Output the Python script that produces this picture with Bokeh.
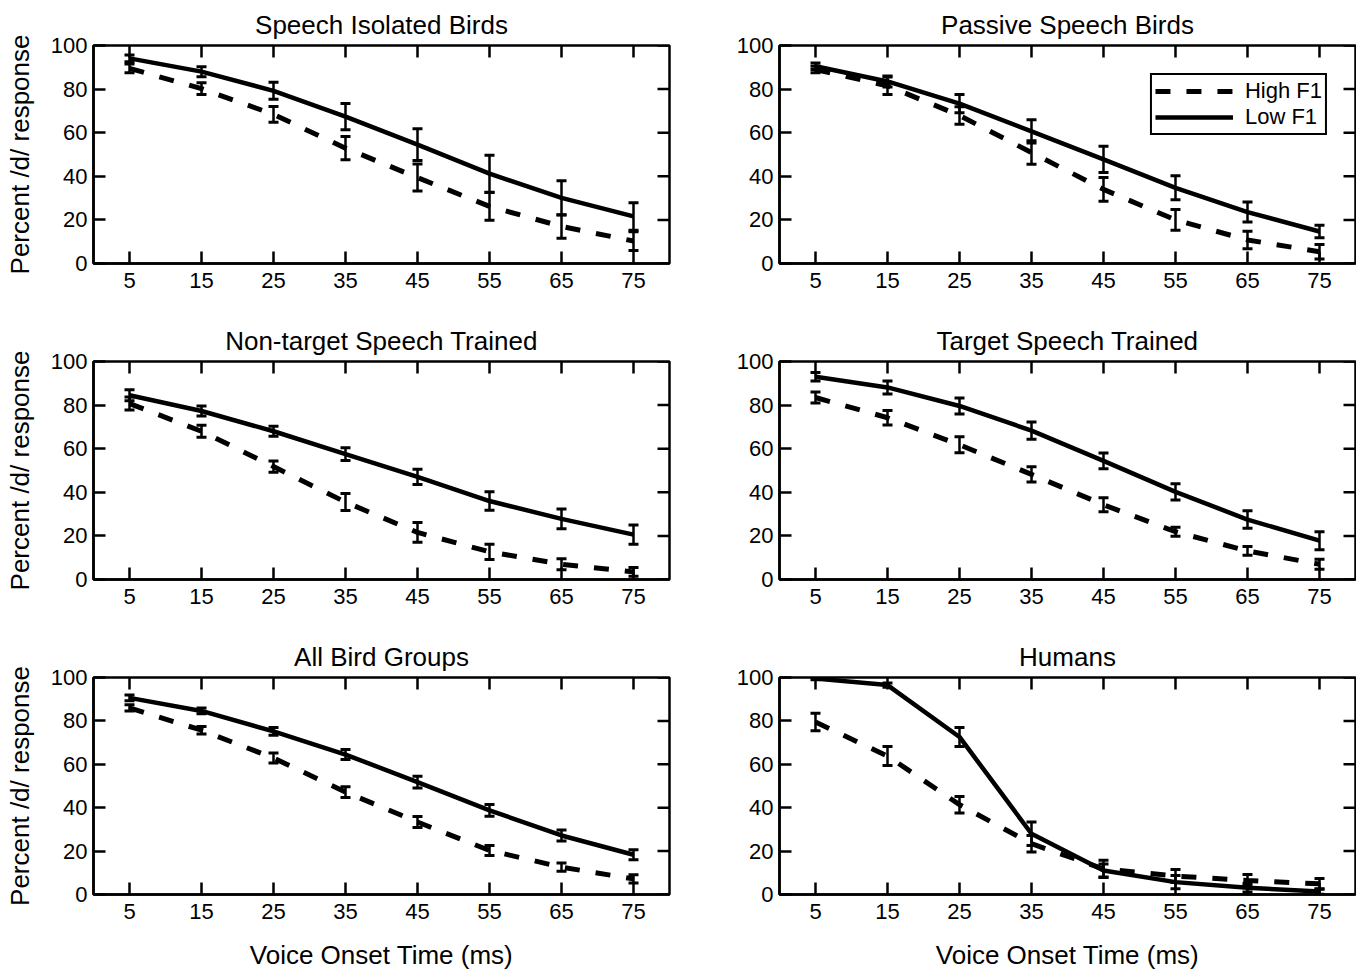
import math
from bokeh.plotting import figure
from bokeh.models import (ColumnDataSource, Whisker, TeeHead, FixedTicker,
                          Range1d, Legend, LegendItem)
from bokeh.layouts import column, row
from bokeh.embed import file_html
from bokeh.resources import INLINE

# ---------------- data ----------------
vot = [5, 15, 25, 35, 45, 55, 65, 75]
y_ticks = [0, 20, 40, 60, 80, 100]
X_MIN, X_MAX = 0, 80
Y_MIN, Y_MAX = 0, 100

titles = ["Speech Isolated Birds", "Passive Speech Birds",
          "Non-target Speech Trained", "Target Speech Trained",
          "All Bird Groups", "Humans"]
series_labels = ["High F1", "Low F1"]
x_label = "Voice Onset Time (ms)"
y_label = "Percent /d/ response"

# Speech Isolated Birds
sib_high = [89.5, 80.2, 68.4, 52.9, 39.4, 26.2, 17.0, 10.3]
sib_high_err = [2.0, 2.7, 3.6, 5.3, 6.2, 6.4, 5.4, 4.3]
sib_low = [94.1, 88.0, 79.2, 67.4, 54.5, 41.2, 30.1, 21.6]
sib_low_err = [1.5, 2.3, 3.9, 6.0, 7.3, 8.5, 7.9, 6.3]

# Passive Speech Birds
pass_high = [89.0, 81.5, 67.9, 50.9, 34.0, 20.0, 10.8, 5.4]
pass_high_err = [1.5, 4.0, 4.0, 5.4, 5.5, 4.8, 4.0, 3.3]
pass_low = [90.5, 83.5, 73.3, 60.6, 47.8, 34.7, 23.6, 14.7]
pass_low_err = [1.5, 2.5, 4.2, 5.3, 6.0, 5.5, 4.6, 2.9]

# Non-target Speech Trained
nt_high = [80.7, 68.0, 51.8, 35.5, 21.6, 12.7, 7.0, 3.5]
nt_high_err = [3.0, 2.7, 2.6, 3.9, 4.5, 3.5, 2.5, 2.0]
nt_low = [84.5, 77.3, 68.0, 57.5, 47.1, 36.0, 27.8, 20.6]
nt_low_err = [2.5, 2.3, 2.3, 2.9, 3.5, 4.2, 4.5, 4.4]

# Target Speech Trained
t_high = [83.5, 74.2, 61.8, 48.2, 34.3, 21.9, 13.1, 7.0]
t_high_err = [2.5, 3.3, 3.7, 3.5, 3.2, 2.1, 2.0, 2.3]
t_low = [93.0, 88.1, 79.6, 68.3, 54.4, 40.2, 27.5, 17.8]
t_low_err = [2.0, 3.0, 3.7, 4.0, 3.6, 3.7, 4.0, 4.1]

# All Bird Groups
all_high = [86.0, 75.7, 62.9, 47.2, 33.4, 20.3, 12.6, 7.2]
all_high_err = [1.4, 1.7, 2.3, 2.5, 2.5, 2.3, 1.9, 1.9]
all_low = [90.6, 84.6, 75.2, 64.5, 51.8, 38.8, 27.2, 18.3]
all_low_err = [1.3, 1.3, 1.8, 2.3, 2.7, 2.7, 2.5, 2.3]

# Humans
hum_high = [79.5, 63.8, 41.4, 23.4, 11.8, 8.5, 6.5, 4.9]
hum_high_err = [4.0, 4.4, 3.8, 3.8, 4.0, 3.0, 2.7, 2.5]
hum_low = [99.5, 96.5, 72.6, 28.0, 11.1, 5.7, 3.1, 1.4]
hum_low_err = [0.5, 1.0, 4.4, 5.4, 3.0, 3.0, 2.0, 1.3]

# ---------------- style ----------------
FONT = "Liberation Sans"
FRAME_W = 576
FRAME_H = 218
AX_W = 2.5
TICK_LEN = 12


def style_axis(ax):
    ax.axis_line_width = AX_W
    ax.axis_line_color = "black"
    ax.major_tick_in = TICK_LEN
    ax.major_tick_out = 0
    ax.major_tick_line_width = AX_W
    ax.major_tick_line_color = "black"
    ax.minor_tick_line_color = None
    ax.major_label_text_font = FONT
    ax.major_label_text_font_size = "22px"
    ax.major_label_text_color = "black"
    ax.major_label_standoff = 6
    ax.axis_label_text_font = FONT
    ax.axis_label_text_font_size = "26px"
    ax.axis_label_text_font_style = "normal"
    ax.axis_label_text_color = "black"


def make_panel(title, high, high_err, low, low_err, left_col, bottom_row, legend=False):
    bl = 93
    br = 17 if left_col else 1
    bt = 45
    bb = 77 if bottom_row else 53
    p = figure(width=bl + FRAME_W + br, height=bt + FRAME_H + bb,
               x_range=Range1d(X_MIN, X_MAX), y_range=Range1d(Y_MIN, Y_MAX),
               output_backend="svg", toolbar_location=None,
               min_border_left=bl, min_border_right=br,
               min_border_top=bt, min_border_bottom=bb)
    p.background_fill_color = "white"
    p.border_fill_color = "white"
    p.outline_line_color = "black"
    p.outline_line_width = AX_W
    p.xgrid.grid_line_color = None
    p.ygrid.grid_line_color = None

    p.title.text = title
    p.title.text_font = FONT
    p.title.text_font_size = "26px"
    p.title.text_font_style = "normal"
    p.title.text_color = "black"
    p.title.align = "center"
    p.title.standoff = 12

    xa = p.xaxis[0]
    xa.ticker = FixedTicker(ticks=vot)
    style_axis(xa)
    xa.major_label_standoff = 9
    if bottom_row:
        xa.axis_label = x_label
        xa.axis_label_standoff = 18
    ya = p.yaxis[0]
    ya.ticker = FixedTicker(ticks=y_ticks)
    style_axis(ya)
    if left_col:
        ya.axis_label = y_label
        ya.axis_label_standoff = 13

    # inward ticks on the top and right edges of the frame
    p.ray(x=vot, y=[Y_MAX] * len(vot), length=TICK_LEN, length_units="screen",
          angle=-math.pi / 2, line_color="black", line_width=AX_W)
    p.ray(x=[X_MAX] * len(y_ticks), y=y_ticks, length=TICK_LEN, length_units="screen",
          angle=math.pi, line_color="black", line_width=AX_W)

    src = ColumnDataSource(dict(
        x=vot,
        high=high, high_lo=[v - e for v, e in zip(high, high_err)],
        high_up=[v + e for v, e in zip(high, high_err)],
        low=low, low_lo=[v - e for v, e in zip(low, low_err)],
        low_up=[v + e for v, e in zip(low, low_err)],
    ))

    r_high = p.line("x", "high", source=src, line_color="black", line_width=5,
                    line_dash="15 16")
    r_low = p.line("x", "low", source=src, line_color="black", line_width=4.5)

    for lo, up in (("high_lo", "high_up"), ("low_lo", "low_up")):
        w = Whisker(base="x", lower=lo, upper=up, source=src,
                    line_color="black", line_width=2.5, level="overlay",
                    upper_head=TeeHead(size=10, line_width=3, line_color="black"),
                    lower_head=TeeHead(size=10, line_width=3, line_color="black"))
        p.add_layout(w)

    if legend:
        lg = Legend(items=[LegendItem(label=series_labels[0], renderers=[r_high]),
                           LegendItem(label=series_labels[1], renderers=[r_low])],
                    location="top_right")
        lg.label_text_font = FONT
        lg.label_text_font_size = "22px"
        lg.label_text_color = "black"
        lg.border_line_color = "black"
        lg.border_line_width = 2
        lg.border_line_alpha = 1.0
        lg.background_fill_color = "white"
        lg.background_fill_alpha = 1.0
        lg.glyph_width = 78
        lg.glyph_height = 20
        lg.label_height = 20
        lg.label_standoff = 12
        lg.padding = 3
        lg.spacing = 0
        lg.margin = 28
        p.add_layout(lg)
    return p


p1 = make_panel(titles[0], sib_high, sib_high_err, sib_low, sib_low_err, True, False)
p2 = make_panel(titles[1], pass_high, pass_high_err, pass_low, pass_low_err, False, False, legend=True)
p3 = make_panel(titles[2], nt_high, nt_high_err, nt_low, nt_low_err, True, False)
p4 = make_panel(titles[3], t_high, t_high_err, t_low, t_low_err, False, False)
p5 = make_panel(titles[4], all_high, all_high_err, all_low, all_low_err, True, True)
p6 = make_panel(titles[5], hum_high, hum_high_err, hum_low, hum_low_err, False, True)

layout = column(row(p1, p2), row(p3, p4), row(p5, p6))

with open("out.html", "w") as f:
    f.write(file_html(layout, INLINE))
